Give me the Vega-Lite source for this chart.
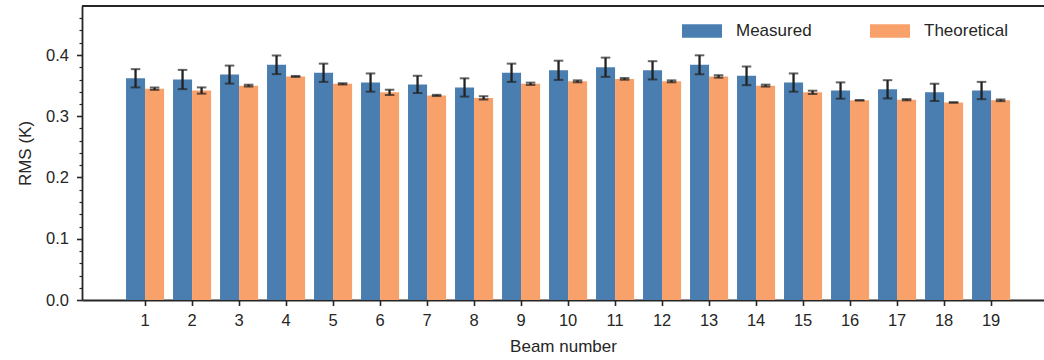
{
  "$schema": "https://vega.github.io/schema/vega-lite/v6.json",
  "width": 962,
  "height": 294,
  "autosize": {"type": "none"},
  "padding": {"left": 82, "top": 6, "right": 0, "bottom": 60},
  "background": "white",
  "config": {
    "view": {"stroke": null},
    "font": "Liberation Sans",
    "axis": {"domain": true, "domainColor": "#262626", "domainWidth": 1.8, "grid": false, "labelFont": "Liberation Sans", "titleFont": "Liberation Sans", "labelColor": "#262626", "titleColor": "#262626", "tickColor": "#262626", "labelFontSize": 16.5, "titleFontSize": 17, "titleFontWeight": "normal"},
    "legend": {"labelFont": "Liberation Sans"}
  },
  "data": {"values": [
    {"beam": 1, "type": "Measured", "rms": 0.362, "lo": 0.3471, "hi": 0.3769},
    {"beam": 2, "type": "Measured", "rms": 0.360, "lo": 0.3443, "hi": 0.3757},
    {"beam": 3, "type": "Measured", "rms": 0.368, "lo": 0.3533, "hi": 0.3827},
    {"beam": 4, "type": "Measured", "rms": 0.384, "lo": 0.3688, "hi": 0.3992},
    {"beam": 5, "type": "Measured", "rms": 0.371, "lo": 0.3561, "hi": 0.3859},
    {"beam": 6, "type": "Measured", "rms": 0.355, "lo": 0.3401, "hi": 0.3699},
    {"beam": 7, "type": "Measured", "rms": 0.352, "lo": 0.3379, "hi": 0.3661},
    {"beam": 8, "type": "Measured", "rms": 0.347, "lo": 0.3321, "hi": 0.3619},
    {"beam": 9, "type": "Measured", "rms": 0.371, "lo": 0.3561, "hi": 0.3859},
    {"beam": 10, "type": "Measured", "rms": 0.375, "lo": 0.3593, "hi": 0.3907},
    {"beam": 11, "type": "Measured", "rms": 0.380, "lo": 0.3643, "hi": 0.3957},
    {"beam": 12, "type": "Measured", "rms": 0.375, "lo": 0.3601, "hi": 0.3899},
    {"beam": 13, "type": "Measured", "rms": 0.384, "lo": 0.3685, "hi": 0.3995},
    {"beam": 14, "type": "Measured", "rms": 0.366, "lo": 0.3508, "hi": 0.3812},
    {"beam": 15, "type": "Measured", "rms": 0.355, "lo": 0.3401, "hi": 0.3699},
    {"beam": 16, "type": "Measured", "rms": 0.342, "lo": 0.3287, "hi": 0.3553},
    {"beam": 17, "type": "Measured", "rms": 0.344, "lo": 0.3291, "hi": 0.3589},
    {"beam": 18, "type": "Measured", "rms": 0.339, "lo": 0.3249, "hi": 0.3531},
    {"beam": 19, "type": "Measured", "rms": 0.342, "lo": 0.3279, "hi": 0.3561},
    {"beam": 1, "type": "Theoretical", "rms": 0.345, "lo": 0.3431, "hi": 0.3469},
    {"beam": 2, "type": "Theoretical", "rms": 0.342, "lo": 0.3369, "hi": 0.3471},
    {"beam": 3, "type": "Theoretical", "rms": 0.350, "lo": 0.3485, "hi": 0.3515},
    {"beam": 4, "type": "Theoretical", "rms": 0.365, "lo": 0.3642, "hi": 0.3658},
    {"beam": 5, "type": "Theoretical", "rms": 0.353, "lo": 0.352, "hi": 0.354},
    {"beam": 6, "type": "Theoretical", "rms": 0.339, "lo": 0.3347, "hi": 0.3433},
    {"beam": 7, "type": "Theoretical", "rms": 0.334, "lo": 0.333, "hi": 0.335},
    {"beam": 8, "type": "Theoretical", "rms": 0.330, "lo": 0.3273, "hi": 0.3327},
    {"beam": 9, "type": "Theoretical", "rms": 0.353, "lo": 0.3511, "hi": 0.3549},
    {"beam": 10, "type": "Theoretical", "rms": 0.357, "lo": 0.3554, "hi": 0.3586},
    {"beam": 11, "type": "Theoretical", "rms": 0.361, "lo": 0.3596, "hi": 0.3624},
    {"beam": 12, "type": "Theoretical", "rms": 0.357, "lo": 0.3554, "hi": 0.3586},
    {"beam": 13, "type": "Theoretical", "rms": 0.365, "lo": 0.363, "hi": 0.367},
    {"beam": 14, "type": "Theoretical", "rms": 0.350, "lo": 0.3484, "hi": 0.3516},
    {"beam": 15, "type": "Theoretical", "rms": 0.339, "lo": 0.3363, "hi": 0.3417},
    {"beam": 16, "type": "Theoretical", "rms": 0.326, "lo": 0.3259, "hi": 0.3261},
    {"beam": 17, "type": "Theoretical", "rms": 0.327, "lo": 0.326, "hi": 0.328},
    {"beam": 18, "type": "Theoretical", "rms": 0.3225, "lo": 0.3222, "hi": 0.3228},
    {"beam": 19, "type": "Theoretical", "rms": 0.326, "lo": 0.3246, "hi": 0.3274}
  ]},
  "resolve": {"axis": {"y": "independent"}},
  "layer": [
    {
      "layer": [
        {
          "mark": {"type": "bar"},
          "encoding": {
            "x": {"field": "beam", "type": "ordinal", "scale": {"paddingInner": 0.19, "paddingOuter": 0.829, "align": 0.565},
              "axis": {"title": "Beam number", "labelAngle": 0, "tickSize": 5.5, "tickWidth": 1.6, "labelPadding": 6.5, "titlePadding": 10}},
            "xOffset": {"field": "type", "type": "nominal", "scale": {"paddingInner": 0, "paddingOuter": 0}},
            "y": {"field": "rms", "type": "quantitative", "title": "RMS (K)", "scale": {"domain": [0, 0.48], "nice": false, "zero": true},
              "axis": {"orient": "left", "labelOverlap": false, "values": [0, 0.1, 0.2, 0.3, 0.4], "format": ".1f",
                "tickSize": 5.5, "tickWidth": 1.6, "labelPadding": 8, "titlePadding": 11}},
            "color": {"field": "type", "type": "nominal",
              "scale": {"domain": ["Measured", "Theoretical"], "range": ["#4A7EB0", "#F8A16B"]},
              "legend": {"title": null, "orient": "none", "legendX": 600, "legendY": 5, "direction": "horizontal", "columns": 2,
                "columnPadding": 58, "labelOffset": 14, "labelFontSize": 17, "labelColor": "#262626",
                "symbolType": "M-1,-0.335L1,-0.335L1,0.335L-1,0.335Z", "symbolSize": 1600, "symbolStrokeWidth": 0, "symbolOpacity": 1, "padding": 0}}
          }
        },
        {
          "mark": {"type": "rule", "color": "#222222", "strokeWidth": 2.3},
          "encoding": {
            "x": {"field": "beam", "type": "ordinal"},
            "xOffset": {"field": "type", "type": "nominal"},
            "y": {"field": "lo", "type": "quantitative", "title": "RMS (K)"},
            "y2": {"field": "hi"}
          }
        },
        {
          "mark": {"type": "tick", "color": "#222222", "size": 9.5, "thickness": 2},
          "encoding": {
            "x": {"field": "beam", "type": "ordinal"},
            "xOffset": {"field": "type", "type": "nominal"},
            "y": {"field": "lo", "type": "quantitative", "title": "RMS (K)"}
          }
        },
        {
          "mark": {"type": "tick", "color": "#222222", "size": 9.5, "thickness": 2},
          "encoding": {
            "x": {"field": "beam", "type": "ordinal"},
            "xOffset": {"field": "type", "type": "nominal"},
            "y": {"field": "hi", "type": "quantitative", "title": "RMS (K)"}
          }
        }
      ]
    },
    {
      "mark": {"type": "rule", "color": "#262626", "strokeWidth": 1.8},
      "encoding": {"y": {"datum": 0.48, "type": "quantitative",
        "axis": {"orient": "left", "title": null, "labels": false, "domain": false, "tickSize": 3, "tickWidth": 1.2,
          "values": [0.02, 0.04, 0.06, 0.08, 0.12, 0.14, 0.16, 0.18, 0.22, 0.24, 0.26, 0.28, 0.32, 0.34, 0.36, 0.38, 0.42, 0.44, 0.46]}}}
    }
  ]
}
